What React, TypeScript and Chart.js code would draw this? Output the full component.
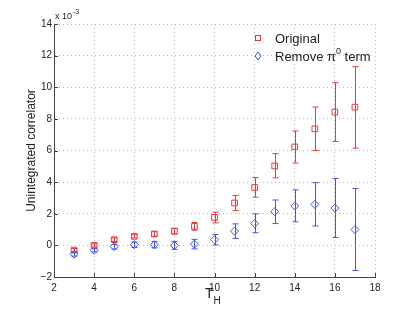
import React, { useEffect, useRef } from "react";
import { Chart, registerables } from "chart.js";

Chart.register(...registerables);

const tH = [3, 4, 5, 6, 7, 8, 9, 10, 11, 12, 13, 14, 15, 16, 17];
const originalVals = [-0.3, 0.0, 0.36, 0.57, 0.72, 0.9, 1.2, 1.77, 2.68, 3.66, 5.02, 6.23, 7.37, 8.43, 8.74];
const originalLow = [-0.4, -0.1, 0.25, 0.47, 0.58, 0.72, 0.96, 1.42, 2.2, 3.05, 4.27, 5.21, 6.0, 6.57, 6.15];
const originalHigh = [-0.2, 0.1, 0.47, 0.67, 0.86, 1.08, 1.45, 2.1, 3.16, 4.29, 5.8, 7.24, 8.75, 10.29, 11.3];
const removedVals = [-0.56, -0.31, -0.08, 0.04, 0.04, 0.0, 0.08, 0.36, 0.9, 1.38, 2.13, 2.49, 2.59, 2.36, 1.0];
const removedLow = [-0.68, -0.41, -0.23, -0.13, -0.16, -0.25, -0.22, 0.03, 0.44, 0.8, 1.38, 1.49, 1.23, 0.5, -1.59];
const removedHigh = [-0.44, -0.21, 0.07, 0.21, 0.24, 0.25, 0.38, 0.69, 1.36, 1.99, 2.87, 3.51, 3.97, 4.23, 3.6];

const RED = "rgb(240,55,55)";
const BLUE = "rgb(65,85,240)";
const FONT = "'Liberation Sans', Arial, Helvetica, sans-serif";

const errorBarPlugin = {
  id: "errorBars",
  afterDatasetsDraw(chart: any) {
    const { ctx, scales } = chart;
    const xs = scales.x;
    const ys = scales.y;
    const sets = [
      { low: originalLow, high: originalHigh, color: RED },
      { low: removedLow, high: removedHigh, color: BLUE },
    ];
    ctx.save();
    ctx.lineWidth = 1;
    sets.forEach((s) => {
      ctx.strokeStyle = s.color;
      tH.forEach((t, i) => {
        const x = Math.round(xs.getPixelForValue(t)) + 0.5;
        const y1 = ys.getPixelForValue(s.low[i]);
        const y2 = ys.getPixelForValue(s.high[i]);
        ctx.beginPath();
        ctx.moveTo(x, y1);
        ctx.lineTo(x, y2);
        ctx.moveTo(x - 3, y1);
        ctx.lineTo(x + 3, y1);
        ctx.moveTo(x - 3, y2);
        ctx.lineTo(x + 3, y2);
        ctx.stroke();
      });
    });
    ctx.restore();
  },
};

const decorPlugin = {
  id: "decor",
  afterDraw(chart: any) {
    const { ctx, scales, chartArea } = chart;
    const xs = scales.x;
    const ys = scales.y;
    ctx.save();
    // inward ticks
    ctx.strokeStyle = "#444";
    ctx.lineWidth = 1;
    ctx.beginPath();
    xs.ticks.forEach((t: any) => {
      const x = Math.round(xs.getPixelForValue(t.value)) + 0.5;
      ctx.moveTo(x, chartArea.bottom);
      ctx.lineTo(x, chartArea.bottom - 4);
    });
    ys.ticks.forEach((t: any) => {
      const y = Math.round(ys.getPixelForValue(t.value)) + 0.5;
      ctx.moveTo(chartArea.left, y);
      ctx.lineTo(chartArea.left + 4, y);
    });
    ctx.stroke();

    ctx.fillStyle = "#222";
    // exponent label
    ctx.textBaseline = "alphabetic";
    ctx.textAlign = "left";
    ctx.font = `9px ${FONT}`;
    ctx.fillText("x 10", chartArea.left + 1, chartArea.top - 5);
    const w = ctx.measureText("x 10").width;
    ctx.font = `7px ${FONT}`;
    ctx.fillText("-3", chartArea.left + 1 + w + 1, chartArea.top - 10);

    // y title
    ctx.save();
    ctx.translate(32, (chartArea.top + chartArea.bottom) / 2);
    ctx.rotate(-Math.PI / 2);
    ctx.textAlign = "center";
    ctx.textBaseline = "middle";
    ctx.font = `12px ${FONT}`;
    ctx.fillText("Unintegrated correlator", 0, 0);
    ctx.restore();

    // x title
    ctx.textAlign = "left";
    ctx.font = `14px ${FONT}`;
    ctx.fillText("T", 205, 298);
    const tw = ctx.measureText("T").width;
    ctx.font = `10px ${FONT}`;
    ctx.fillText("H", 205 + tw, 304);

    // legend
    const lx = 258;
    ctx.lineWidth = 1;
    ctx.strokeStyle = RED;
    ctx.strokeRect(lx - 2.5, 35.5, 5, 5);
    ctx.strokeStyle = BLUE;
    ctx.beginPath();
    ctx.moveTo(lx, 52);
    ctx.lineTo(lx + 3, 56);
    ctx.lineTo(lx, 60);
    ctx.lineTo(lx - 3, 56);
    ctx.closePath();
    ctx.stroke();
    ctx.fillStyle = "#222";
    ctx.font = `13px ${FONT}`;
    ctx.fillText("Original", 275, 43);
    ctx.fillText("Remove \u03c0", 275, 61);
    const rw = ctx.measureText("Remove \u03c0").width;
    ctx.font = `9px ${FONT}`;
    ctx.fillText("0", 275 + rw, 54);
    const zw = ctx.measureText("0").width;
    ctx.font = `13px ${FONT}`;
    ctx.fillText(" term", 275 + rw + zw, 61);
    ctx.restore();
  },
};

export default function App() {
  const ref = useRef<HTMLCanvasElement>(null);
  useEffect(() => {
    document.body.style.margin = "0";
    const mk = (vals: number[]) => tH.map((t, i) => ({ x: t, y: vals[i] }));
    const chart = new Chart(ref.current!, {
      type: "scatter",
      data: {
        datasets: [
          {
            label: "Original",
            data: mk(originalVals),
            pointStyle: "rect",
            pointRadius: 4,
            borderColor: RED,
            backgroundColor: "rgba(0,0,0,0)",
            borderWidth: 1,
          },
          {
            label: "Remove \u03c0\u2070 term",
            data: mk(removedVals),
            pointStyle: "rectRot",
            pointRadius: 4,
            borderColor: BLUE,
            backgroundColor: "rgba(0,0,0,0)",
            borderWidth: 1,
          },
        ],
      },
      options: {
        animation: false,
        responsive: false,
        devicePixelRatio: 1,
        layout: { padding: { left: 0, top: 24, right: 40, bottom: 0 } },
        plugins: { legend: { display: false }, tooltip: { enabled: false } },
        scales: {
          x: {
            type: "linear",
            min: 2,
            max: 18,
            ticks: { stepSize: 2, padding: 5, color: "#222", font: { family: FONT, size: 10 }, maxRotation: 0 },
            grid: { color: "#bbb", drawTicks: false },
            border: { display: true, color: "#444", dash: [1, 3] },
            afterFit: (s: any) => { s.height = 36; },
          },
          y: {
            type: "linear",
            min: -2,
            max: 14,
            ticks: {
              stepSize: 2,
              padding: 2,
              color: "#222",
              font: { family: FONT, size: 10 },
              callback: (v: any) => (v < 0 ? "\u2212" + Math.abs(v) : String(v)),
            },
            grid: { color: "#bbb", drawTicks: false },
            border: { display: true, color: "#444", dash: [1, 3] },
            afterFit: (s: any) => { s.width = 54; },
          },
        },
      },
      plugins: [errorBarPlugin, decorPlugin],
    });
    return () => chart.destroy();
  }, []);
  return (
    <div style={{ width: 415, height: 313, background: "#fff" }}>
      <canvas ref={ref} width={415} height={313} style={{ display: "block" }} />
    </div>
  );
}
